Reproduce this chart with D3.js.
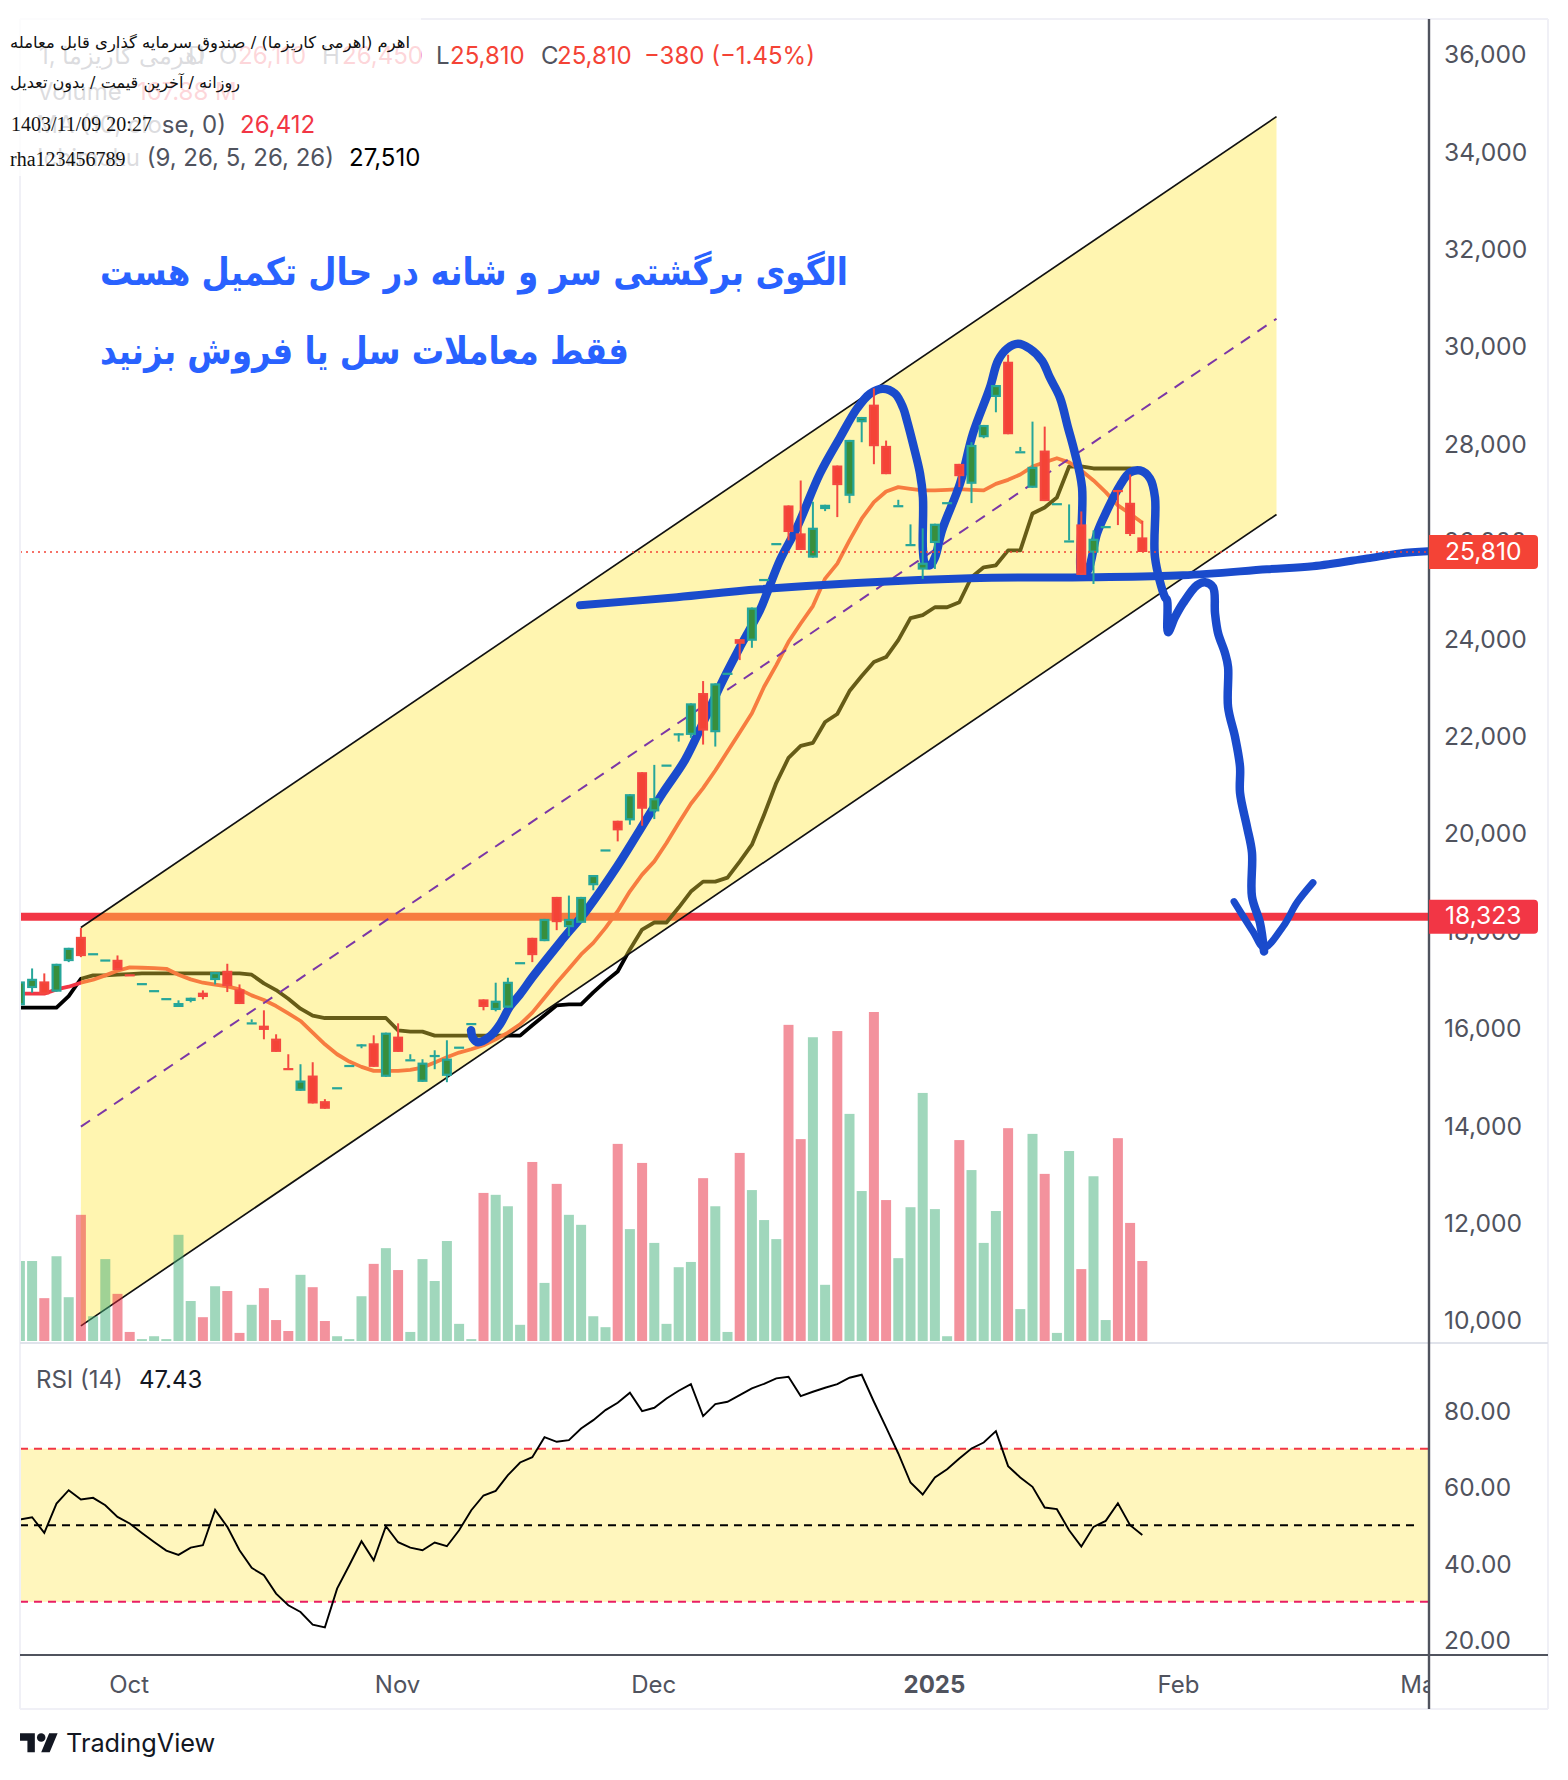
<!DOCTYPE html>
<html>
<head>
<meta charset="utf-8">
<script src="https://cdn.jsdelivr.net/npm/d3@7"></script>
<style>
    body { margin: 0; background: #fff; }
    svg { display: block; }
    text { font-family: Inter, "Noto Sans", sans-serif; }
    .tick text { font-family: Inter, "Noto Sans", sans-serif; fill: #50535e; }
    .serif { font-family: "Liberation Serif", "DejaVu Serif", serif; fill: #111; }
    .farsi { font-family: "DejaVu Sans", sans-serif; fill: #111; }
</style>
</head>
<body>
<script>
//daily candles, one entry per bar
var opens = [16501,16856,16993,16781,17409,17908,17573,17444,17437,17140,
    16959,16815,16651,16467,16590,16761,17020,17211,16829,16153,
    16084,15818,15214,14746,15060,14534,14821,15278,15702,15722,
    15033,15859,15395,14930,15483,15053,15654,16139,16624,16405,
    16453,17389,17888,17819,18728,18106,18195,18967,19704,20292,
    20299,21289,20483,21446,22088,22054,22914,22109,23331,24021,
    23987,25257,25994,26766,26193,25694,26691,27586,26964,28474,
    28836,27989,26773,25974,25448,25994,26835,27620,27210,28166,
    28993,29717,27880,27128,27893,26814,26049,26377,25796,26343,
    27084,26821,26110];
var highs = [16993,17259,17157,17355,17683,18092,17573,17444,17526,17140,
    16959,16815,16651,16604,16658,16808,17184,17355,16931,16214,
    16399,15907,15497,15292,15333,14575,14821,15278,15702,15886,
    15941,16132,15497,15395,15579,15784,15654,16139,16624,16966,
    17068,17389,17888,18277,18728,18755,18728,19178,19704,20292,
    20838,21289,21439,21446,22088,22703,23160,23113,23331,24021,
    24670,25257,25994,26766,27278,26841,26780,27586,28112,28583,
    29170,28098,26882,26377,26295,26391,26835,27620,28064,28419,
    29239,29860,27968,28487,28385,26814,26787,26643,26254,26343,
    27084,27401,26450];
var lows = [16501,16761,16726,16781,17389,17491,17573,17444,17225,17136,
    16959,16815,16651,16467,16563,16624,16931,16774,16528,16153,
    15804,15545,15210,14746,14486,14377,14821,15278,15620,15238,
    15033,15545,15395,14930,15190,14923,15654,16139,16399,16378,
    16453,17389,17389,17819,18045,17922,18195,18864,19704,19868,
    20210,20189,20326,21446,21917,21992,21856,21815,23331,23591,
    23843,25257,25994,26049,25851,25694,26650,26527,26814,28064,
    27613,27408,26773,25974,25257,25462,26835,27142,26814,28146,
    28679,28228,27880,27128,26855,26814,26049,25339,25154,26343,
    26363,26138,25810];
var closes = [16993,17047,16726,17355,17683,17512,17573,17444,17225,17136,
    16959,16815,16651,16549,16658,16672,17184,16897,16528,16153,
    15996,15545,15210,14958,14486,14377,14821,15278,15702,15238,
    15941,15545,15395,15326,15483,15408,15654,16139,16467,16597,
    16986,17389,17532,18277,18209,18277,18728,19178,19704,20094,
    20838,20538,20756,21446,22088,22703,22143,23113,23331,23925,
    24670,25257,25994,26220,25851,26309,26780,27183,28112,28583,
    27982,27408,26773,25974,25591,26391,26835,27367,28009,28419,
    29239,28228,27880,27559,26855,26814,26049,25339,26083,26343,
    27080,26179,25810];
//volume in millions
var volumes = [168,168,90,178,92,265,52,172,99,19,
    4,10,4,223,84,50,115,105,17,76,
    111,44,21,139,113,42,10,4,94,162,
    195,149,19,172,126,210,36,4,311,307,
    283,34,376,122,330,265,244,52,29,414,
    235,374,206,36,155,166,342,283,19,395,
    317,254,214,664,424,638,118,651,477,315,
    691,296,174,281,521,277,10,422,359,206,
    273,447,67,435,351,17,399,151,346,44,
    426,248,168];
//moving average (10, close)
var maValues = [16740,16740,16740,16829,16884,16966,17027,17116,17211,17280,
    17273,17266,17252,17129,17034,16966,16925,16890,16829,16706,
    16610,16487,16337,16180,15941,15702,15497,15347,15238,15155,
    15155,15155,15176,15224,15326,15436,15531,15600,15681,15804,
    15941,16112,16351,16658,16966,17252,17546,17785,18093,18434,
    18844,19185,19458,19834,20244,20640,20961,21323,21712,22102,
    22498,23044,23488,23966,24342,24700,25264,25571,26049,26493,
    26835,27053,27142,27108,27074,27074,27087,27101,27087,27074,
    27210,27292,27401,27565,27654,27736,27654,27483,27279,27039,
    26766,26596,26412];
//dark base line of the cloud indicator
var baseLine = [16453,16453,16453,16453,16692,17048,17116,17116,17130,17143,
    17157,17157,17157,17157,17157,17157,17157,17157,17157,17130,
    16952,16815,16638,16433,16289,16241,16241,16241,16241,16241,
    16241,15989,15962,15962,15880,15880,15880,15880,15880,15880,
    15880,15880,16091,16296,16502,16522,16522,16767,16993,17197,
    17649,18058,18202,18202,18509,18837,19042,19042,19124,19452,
    19800,20415,21071,21582,21828,21890,22320,22484,22955,23263,
    23550,23652,24000,24451,24513,24676,24676,24779,25291,25496,
    25537,25844,25844,26602,26725,26930,27566,27566,27525,27525,
    27525,27525,27510];
var rsiValues = [51.48,52.09,48.0,55.66,59.15,56.71,57.15,55.23,52.18,50.44,
    48.0,45.64,43.38,42.25,44.16,44.77,54.01,49.57,43.47,38.85,
    36.93,32.14,29.09,27.34,24.03,23.33,33.44,39.54,45.82,40.85,
    49.74,45.56,44.16,43.47,45.47,44.51,48.69,53.92,57.76,58.98,
    63.07,66.39,67.78,73.01,71.79,72.22,75.28,77.45,80.07,81.99,
    84.6,79.81,80.68,83.12,85.12,86.87,78.5,81.64,82.25,84.0,
    85.73,86.95,88.35,88.78,83.73,84.86,85.91,86.87,88.52,89.31,
    82.25,75.54,68.74,61.16,58.02,62.46,64.64,67.43,70.05,71.61,
    74.58,65.43,62.46,60.02,54.62,54.19,48.69,44.42,49.57,51.13,
    55.75,50.0,47.43];

//axis ticks
var priceTicks = [10000,12000,14000,16000,18000,20000,22000,24000,26000,28000,30000,32000,34000,36000];
var rsiTicks = [20,40,60,80];
var monthBars = [9,31,52,75,95,115];
var monthLabels = ["Oct","Nov","Dec","2025","Feb","Mar"];

//levels and parallel channel anchors
var lastPrice = 25810;
var supportLevel = 18323;
var channelBars = [5,103];
var channelUpper = [18100,34750];
var channelMiddle = [14010,30600];
var channelLower = [9920,26580];

//hand drawn strokes, bar number and price
var headBars = [36.98,37.14,37.55,38.53,39.35,40.17,40.99,42.06,44.27,46.49,48.94,50.83,52.71,54.52,55.99,57.63,59.02,60.66,61.32,62.3,63.7,65.58,67.22,68.61,69.68,70.75,71.73,72.39,72.71,73.2,73.78,74.02,74.02,74.19,74.6,75.01,75.58,77.06,78.12,79.51,80.17,80.91,81.81,82.79,83.78,84.43,85.25,85.91,86.48,87.06,87.06,87.55,88.29,89.11,90.17,90.99,91.81,92.63,93.04,93.04,93.86,94.03,94.11,94.68,95.34,96.48,97.14,97.8,97.96,98.21,98.78,99.03,99.03,99.6,100.01,100.01,100.58,100.99,100.99,101.64,101.98];
var headPrices = [15989,15825,15743,15866,16112,16480,16726,17095,17792,18468,19349,20107,20866,21542,22300,23181,23857,24615,25023,25640,26316,27422,28160,28754,29061,29164,29061,28774,28508,28037,27422,26930,25844,25578,25537,25701,26254,27217,28242,29184,29738,29984,30086,29984,29738,29389,28980,28365,27832,27135,25332,25435,26193,26664,27176,27443,27484,27320,26930,25701,24881,24820,24164,24472,24759,25128,25189,25086,24553,24144,23734,23447,22627,22013,21398,20866,20169,19636,18734,18202,17608];
var arrowBars = [99.52,101.07,101.98,103.54,104.68,105.99];
var arrowPrices = [18632,18017,17690,18120,18612,19021];
var neckBars = [45.91,53.86,60.66,77.87,87.55,95.34,102.22,105.99,110.42,113.12,115.42];
var neckPrices = [24718,24882,25045,25271,25291,25332,25455,25517,25680,25782,25824];

var width = 1568, height = 1780;
var paneLeft = 20, paneRight = 1429, priceBottom = 1343, rsiBottom = 1655, frameBottom = 1709, frameRight = 1548;

var svg = d3.select("body").append("svg")
    .attr("width", width)
    .attr("height", height);

//scales
var x = d3.scaleLinear().domain([0, 115.5]).range([19.9, paneRight]);
var y = d3.scaleLinear().domain([9568, 36734]).range([priceBottom, 20]);
var yVolume = d3.scaleLinear().domain([0, 691]).range([1341, 1012]);
var yRsi = d3.scaleLinear().domain([16.1, 97.6]).range([rsiBottom, priceBottom]);

var defs = svg.append("defs");
defs.append("clipPath").attr("id", "pane").append("rect")
    .attr("x", paneLeft).attr("y", 0).attr("width", paneRight - paneLeft).attr("height", rsiBottom);
defs.append("clipPath").attr("id", "timeClip").append("rect")
    .attr("x", paneLeft).attr("y", rsiBottom).attr("width", paneRight - paneLeft).attr("height", frameBottom - rsiBottom);

var chart = svg.append("g").attr("clip-path", "url(#pane)");

var bars = d3.range(opens.length);

function lineOf(values){
    return d3.line()
        .x(function(d){ return x(d); })
        .y(function(d){ return y(values[d]); })(bars);
}

//support level and indicators sit under the channel fill, which tints them
chart.append("line")
    .attr("x1", paneLeft).attr("x2", paneRight)
    .attr("y1", y(supportLevel)).attr("y2", y(supportLevel))
    .attr("stroke", "#f23645").attr("stroke-width", 8);

chart.append("path").attr("d", lineOf(baseLine))
    .attr("fill", "none").attr("stroke", "#000").attr("stroke-width", 3.8).attr("stroke-linejoin", "round");
chart.append("path").attr("d", lineOf(maValues))
    .attr("fill", "none").attr("stroke", "#f23645").attr("stroke-width", 3.8).attr("stroke-linejoin", "round");

//parallel channel
var channelArea = d3.area()
    .x(function(d){ return x(channelBars[d]); })
    .y0(function(d){ return y(channelLower[d]); })
    .y1(function(d){ return y(channelUpper[d]); });

chart.append("path").attr("d", channelArea([0, 1]))
    .attr("fill", "#ffe63a").attr("fill-opacity", 0.4);

[channelUpper, channelLower].forEach(function(edge){
    chart.append("line")
        .attr("x1", x(channelBars[0])).attr("x2", x(channelBars[1]))
        .attr("y1", y(edge[0])).attr("y2", y(edge[1]))
        .attr("stroke", "#111").attr("stroke-width", 1.7);
});

chart.append("line")
    .attr("x1", x(channelBars[0])).attr("x2", x(channelBars[1]))
    .attr("y1", y(channelMiddle[0])).attr("y2", y(channelMiddle[1]))
    .attr("stroke", "#7b36a6").attr("stroke-width", 2).attr("stroke-dasharray", "11 9");

//volume bars
chart.selectAll(".volume")
    .data(bars)
    .enter()
    .append("rect")
    .attr("class", "volume")
    .attr("x", function(d){ return x(d) - 5; })
    .attr("width", 10)
    .attr("y", function(d){ return yVolume(volumes[d]); })
    .attr("height", function(d){ return yVolume(0) - yVolume(volumes[d]); })
    .attr("fill", function(d){ return closes[d] >= opens[d] ? "#41af79" : "#e7253b"; })
    .attr("fill-opacity", 0.5);

//blue freehand strokes
function drawStroke(stepBars, stepPrices, strokeWidth){
    var stroke = d3.line()
        .x(function(d){ return x(stepBars[d]); })
        .y(function(d){ return y(stepPrices[d]); })
        .curve(d3.curveCatmullRom.alpha(0.5));
    chart.append("path")
        .attr("d", stroke(d3.range(stepBars.length)))
        .attr("fill", "none")
        .attr("stroke", "#1a4bcc")
        .attr("stroke-width", strokeWidth)
        .attr("stroke-linecap", "round")
        .attr("stroke-linejoin", "round");
}
drawStroke(neckBars, neckPrices, 8);
drawStroke(headBars, headPrices, 8.5);
drawStroke(arrowBars, arrowPrices, 7);

//candles
var candle = chart.selectAll(".candle")
    .data(bars)
    .enter()
    .append("g")
    .attr("class", "candle");

candle.append("line")
    .attr("x1", function(d){ return x(d); })
    .attr("x2", function(d){ return x(d); })
    .attr("y1", function(d){ return y(highs[d]); })
    .attr("y2", function(d){ return y(lows[d]); })
    .attr("stroke-width", 2)
    .attr("stroke", function(d){ return closes[d] >= opens[d] ? "#26a69a" : "#f44840"; });

candle.append("rect")
    .attr("x", function(d){ return x(d) - 3.9; })
    .attr("width", 7.8)
    .attr("y", function(d){ return y(Math.max(opens[d], closes[d])) + 1.1; })
    .attr("height", function(d){ return Math.max(Math.abs(y(opens[d]) - y(closes[d])) - 2.2, 0.01); })
    .attr("stroke-width", 2.2)
    .attr("fill", function(d){ return closes[d] >= opens[d] ? "#388e3c" : "#f44336"; })
    .attr("stroke", function(d){ return closes[d] >= opens[d] ? "#26a69a" : "#f44840"; });

//last price marker
chart.append("line")
    .attr("x1", paneLeft).attr("x2", paneRight)
    .attr("y1", y(lastPrice)).attr("y2", y(lastPrice))
    .attr("stroke", "#f44336").attr("stroke-width", 1.6).attr("stroke-dasharray", "2 4");

//RSI pane
chart.append("rect")
    .attr("x", paneLeft).attr("width", paneRight - paneLeft)
    .attr("y", yRsi(70)).attr("height", yRsi(30) - yRsi(70))
    .attr("fill", "#fff6bd");

[[70, "#f23645", paneRight], [50, "#000", 1416], [30, "#e91e63", paneRight]].forEach(function(level){
    chart.append("line")
        .attr("x1", paneLeft).attr("x2", level[2])
        .attr("y1", yRsi(level[0])).attr("y2", yRsi(level[0]))
        .attr("stroke", level[1]).attr("stroke-width", 2).attr("stroke-dasharray", "8 6");
});

chart.append("path")
    .attr("d", d3.line()
        .x(function(d){ return x(d); })
        .y(function(d){ return yRsi(rsiValues[d]); })(bars))
    .attr("fill", "none").attr("stroke", "#000").attr("stroke-width", 1.9);

//frame and separators
function rule(x1, y1, x2, y2, color, w){
    svg.append("line")
        .attr("x1", x1).attr("y1", y1).attr("x2", x2).attr("y2", y2)
        .attr("stroke", color).attr("stroke-width", w);
}
rule(paneLeft, 19, paneLeft, frameBottom, "#f0f0f6", 2);
rule(paneLeft, 19, frameRight, 19, "#f0f0f6", 2);
rule(frameRight, 19, frameRight, frameBottom, "#f0f0f6", 2);
rule(paneLeft, frameBottom, frameRight, frameBottom, "#f0f0f6", 2);
rule(paneLeft, priceBottom, frameRight, priceBottom, "#e0e3eb", 2);

//axes
var priceAxis = d3.axisRight(y)
    .tickValues(priceTicks)
    .tickSize(0)
    .tickPadding(15)
    .tickFormat(d3.format(","));
var priceG = svg.append("g").attr("transform", "translate(" + paneRight + ",0)").call(priceAxis);
priceG.select(".domain").remove();
priceG.selectAll("text").style("font-size", "24.6px").attr("dy", "0.28em");

var rsiAxis = d3.axisRight(yRsi)
    .tickValues(rsiTicks)
    .tickSize(0)
    .tickPadding(15)
    .tickFormat(d3.format(".2f"));
var rsiG = svg.append("g").attr("transform", "translate(" + paneRight + ",1)").call(rsiAxis);
rsiG.select(".domain").remove();
rsiG.selectAll("text").style("font-size", "24.4px");

var timeAxis = d3.axisBottom(x)
    .tickValues(monthBars)
    .tickSize(0)
    .tickPadding(21)
    .tickFormat(function(d, i){ return monthLabels[i]; });
var timeG = svg.append("g")
    .attr("clip-path", "url(#timeClip)")
    .append("g")
    .attr("transform", "translate(-1," + rsiBottom + ")")
    .call(timeAxis);
timeG.select(".domain").remove();
timeG.selectAll("text")
    .style("font-size", "24px")
    .style("font-weight", function(d, i){ return monthLabels[i] == "2025" ? 700 : 400; });

rule(paneLeft, rsiBottom, frameRight, rsiBottom, "#50535e", 2);
rule(paneRight, 19, paneRight, frameBottom, "#50535e", 2.4);

//price tags on the axis
function priceTag(value, color){
    svg.append("path")
        .attr("d", "M" + paneRight + " " + (y(value) - 17) + "h105a4 4 0 0 1 4 4v26a4 4 0 0 1 -4 4h-105z")
        .attr("fill", color);
    svg.append("text")
        .attr("x", 1445).attr("y", y(value)).attr("dy", "0.32em")
        .attr("fill", "#fff").style("font-size", "24.6px")
        .text(d3.format(",")(value));
}
priceTag(lastPrice, "#f44336");
priceTag(supportLevel, "#f23645");

//legend rows, mostly hidden behind the pasted white strips
function label(str, lx, ly, color, anchor, size){
    return svg.append("text")
        .attr("x", lx).attr("y", ly).attr("dy", "0.35em")
        .attr("text-anchor", anchor || "start")
        .attr("fill", color)
        .style("font-size", (size || 24) + "px")
        .text(str);
}
label("1,", 39, 56, "#50535e");
label("اهرمی کاریزما", 62, 56, "#50535e");
label("D", 188, 56, "#50535e");
label("O", 219, 56, "#50535e");
label("26,110", 238, 56, "#f23645");
label("H", 322, 56, "#50535e");
label("26,450", 342, 56, "#f23645");
label("Volume", 37, 92, "#50535e");
label("167.88 M", 137, 92, "#f23645");
label("MA (10, close, 0)", 226, 125, "#50535e", "end");
label("Ichimoku (9, 26, 5, 26, 26)", 334, 158, "#50535e", "end");

svg.append("rect").attr("x", 0).attr("y", 0).attr("width", 421).attr("height", 110).attr("fill", "#fff").attr("fill-opacity", 0.8);
svg.append("rect").attr("x", 0).attr("y", 110).attr("width", 161).attr("height", 32).attr("fill", "#fff").attr("fill-opacity", 0.8);
svg.append("rect").attr("x", 0).attr("y", 142).attr("width", 140).attr("height", 34).attr("fill", "#fff").attr("fill-opacity", 0.8);

label("L", 436, 56, "#50535e");
label("25,810", 450, 56, "#f44336");
label("C", 541, 56, "#50535e");
label("25,810", 557, 56, "#f44336");
label("\u2212380 (\u22121.45%)", 644, 56, "#f44336");
label("26,412", 240, 125, "#f23645");
label("27,510", 349, 158, "#000");

//pasted caption
function farsi(str, rightX, ly, size, length, color, weight){
    var t = svg.append("text")
        .attr("class", "farsi")
        .attr("x", rightX).attr("y", ly).attr("dy", "0.35em")
        .attr("direction", "rtl")
        .attr("text-anchor", "start")
        .style("font-size", size + "px")
        .text(str);
    if (length){
        t.attr("textLength", length).attr("lengthAdjust", "spacingAndGlyphs");
    }
    if (color){
        t.style("fill", color).style("font-weight", weight);
    }
}
farsi("اهرم (اهرمی کاریزما) / صندوق سرمایه گذاری قابل معامله", 410, 42, 16, 400);
farsi("روزانه / آخرین قیمت / بدون تعدیل", 240, 82, 16, 230);

svg.append("text").attr("class", "serif")
    .attr("x", 11).attr("y", 124).attr("dy", "0.35em")
    .style("font-size", "20px").text("1403/11/09 20:27");
svg.append("text").attr("class", "serif")
    .attr("x", 10).attr("y", 159).attr("dy", "0.35em")
    .style("font-size", "20px").text("rha123456789");

//annotation text
farsi("الگوی برگشتی سر و شانه در حال تکمیل هست", 848, 272, 38, 748, "#2962ff", 700);
farsi("فقط معاملات سل یا فروش بزنید", 629, 351, 38, 529, "#2962ff", 700);

//RSI legend
label("RSI (14)", 36, 1380, "#50535e", "start", 24);
label("47.43", 139, 1380, "#131722", "start", 24);

//TradingView mark
var logo = svg.append("g").attr("transform", "translate(20,1729) scale(1.06)").attr("fill", "#131722");
logo.append("path").attr("d", "M14 22H7V11H0V4h14v18zM28 22h-8l7.5-18h8L28 22z");
logo.append("circle").attr("cx", 20).attr("cy", 8).attr("r", 4);
label("TradingView", 66, 1743, "#131722", "start", 25.3);
</script>
</body>
</html>
